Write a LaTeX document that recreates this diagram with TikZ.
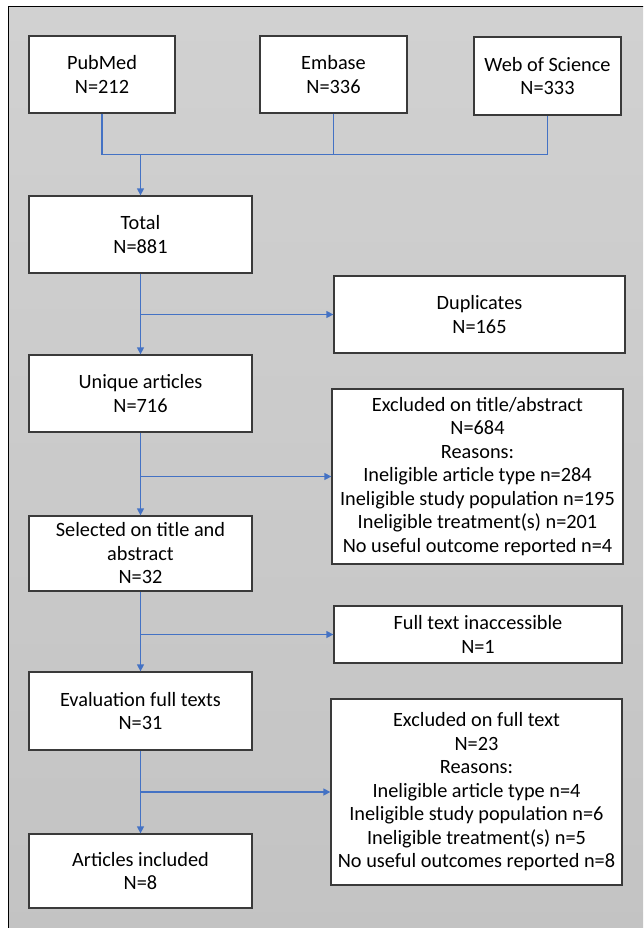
\documentclass[tikz,border=0pt]{standalone}
\usepackage{fontspec}
\setmainfont{Carlito}
\usetikzlibrary{arrows.meta}
\definecolor{arrblue}{HTML}{4472C4}
\definecolor{boxline}{HTML}{3A3A3A}
\definecolor{bgtop}{HTML}{D1D1D1}
\definecolor{bgbot}{HTML}{C3C3C3}
\begin{document}
\begin{tikzpicture}[x=1pt,y=-1pt,
  box/.style={draw=boxline,line width=1.3pt,fill=white,align=center,inner sep=0pt,
    font=\fontsize{20.3}{23.5}\selectfont},
  conn/.style={draw=arrblue,line width=1.4pt},
  arr/.style={conn,-{Triangle[length=7pt,width=7pt]}}]
\useasboundingbox (0,0) rectangle (643,928);
\begin{scope}
\clip (0,0) rectangle (643,928);
\shade[top color=bgtop,bottom color=bgbot,draw=black,line width=1pt] (8,7) rectangle (660,945);
\end{scope}
% sources
\node[box,minimum width=146pt,minimum height=77pt] (pub) at (102,74.5) {PubMed\\N=212};
\node[box,minimum width=147pt,minimum height=77pt] (emb) at (333.5,74.5) {Embase\\N=336};
\node[box,minimum width=147pt,minimum height=78pt] (wos) at (547.5,76) {Web of Science\\N=333};
% main column
\node[box,minimum width=223pt,minimum height=77pt] (total) at (140.5,234.5) {Total\\N=881};
\node[box,minimum width=223pt,minimum height=77pt] (uniq) at (140.5,393.5) {Unique articles\\N=716};
\node[box,minimum width=223pt,minimum height=75pt] (sel) at (140.5,553.5) {Selected on title and\\abstract\\N=32};
\node[box,minimum width=223pt,minimum height=78pt] (eval) at (140.5,711) {Evaluation full texts\\N=31};
\node[box,minimum width=223pt,minimum height=74pt] (incl) at (140.5,871) {Articles included\\N=8};
% side column
\node[box,minimum width=291pt,minimum height=77pt] (dup) at (479.5,314.5) {Duplicates\\N=165};
\node[box,minimum width=291pt,minimum height=175pt] (exc1) at (477.5,476.5) {Excluded on title/abstract\\N=684\\Reasons:\\Ineligible article type n=284\\Ineligible study population n=195\\Ineligible treatment(s) n=201\\No useful outcome reported n=4};
\node[box,minimum width=288pt,minimum height=57pt] (fti) at (478,634.5) {Full text inaccessible\\N=1};
\node[box,minimum width=291pt,minimum height=186pt] (exc2) at (476.5,792) {Excluded on full text\\N=23\\Reasons:\\Ineligible article type n=4\\Ineligible study population n=6\\Ineligible treatment(s) n=5\\No useful outcomes reported n=8};
% merge of sources
\coordinate (j) at (140.5,154.5);
\draw[conn] (pub.south) -- (pub.south |- j) -- (wos.south |- j) -- (wos.south);
\draw[conn] (emb.south) -- (emb.south |- j);
\draw[arr] (j) -- (total.north);
% main flow
\draw[arr] (total.south) -- (uniq.north);
\draw[arr] (uniq.south) -- (sel.north);
\draw[arr] (sel.south) -- (eval.north);
\draw[arr] (eval.south) -- (incl.north);
% branches
\coordinate (b1) at (total.south |- dup.west);
\coordinate (b2) at (uniq.south |- exc1.west);
\coordinate (b3) at (sel.south |- fti.west);
\coordinate (b4) at (eval.south |- exc2.west);
\draw[arr] (b1) -- (dup.west);
\draw[arr] (b2) -- (exc1.west);
\draw[arr] (b3) -- (fti.west);
\draw[arr] (b4) -- (exc2.west);
\end{tikzpicture}
\end{document}
